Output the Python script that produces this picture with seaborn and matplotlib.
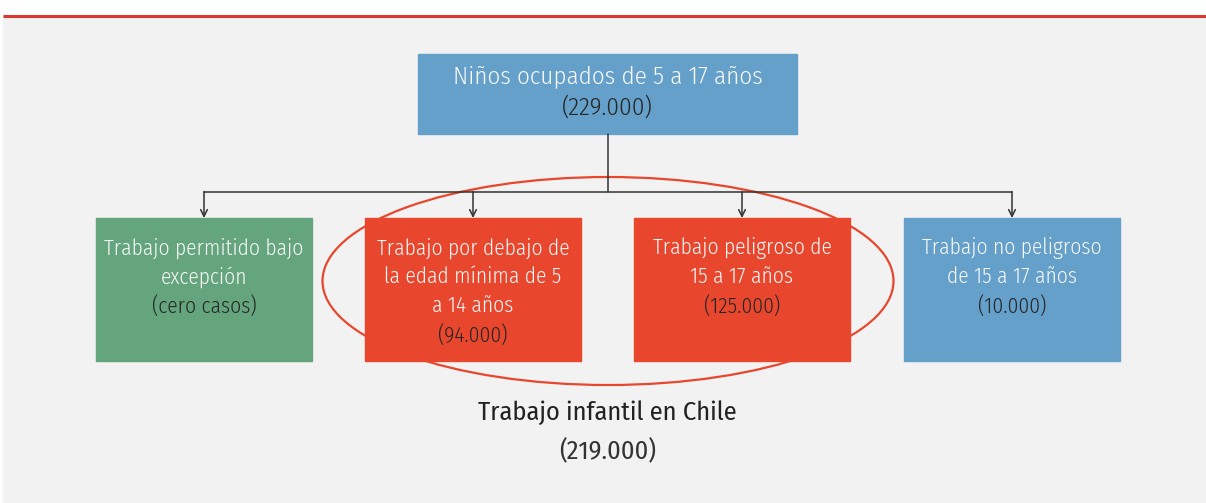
import matplotlib.pyplot as plt
import seaborn as sns
from matplotlib.patches import Rectangle, Ellipse

# diagram content
top_label = 'Niños ocupados de 5 a 17 años'
top_value = '(229.000)'
box_labels = [['Trabajo permitido bajo', 'excepción'],
              ['Trabajo por debajo de', 'la edad mínima de 5', 'a 14 años'],
              ['Trabajo peligroso de', '15 a 17 años'],
              ['Trabajo no peligroso', 'de 15 a 17 años']]
box_values = ['(cero casos)', '(94.000)', '(125.000)', '(10.000)']
box_kinds = ['permitido', 'infantil', 'infantil', 'ocupado']
total_label = 'Trabajo infantil en Chile'
total_value = '(219.000)'

colors = {'ocupado': '#64a0ca', 'permitido': '#64a57e', 'infantil': '#e8472e'}

sns.set_theme(style='white')
plt.rcParams['font.family'] = ['Fira Sans Condensed', 'DejaVu Sans']
light = dict(family=['Fira Sans Condensed', 'DejaVu Sans'], weight=300)
regular = dict(family=['Fira Sans Condensed', 'DejaVu Sans'], weight=400)

fig = plt.figure(figsize=(12.06, 5.03), dpi=100)
fig.patch.set_facecolor('white')
ax = fig.add_axes([0, 0, 1, 1])
ax.set_xlim(0, 1206)
ax.set_ylim(503, 0)
ax.axis('off')

# background panel and top rule
ax.add_patch(Rectangle((3, 16), 1210, 500, color='#f2f2f2', zorder=0))
ax.plot([3, 1206], [16, 16], color='#dc3a30', lw=2.2, zorder=1, solid_capstyle='butt')

line_c = '#333333'
white_c = '#f7f7f7'
dark_c = '#262626'

# top box
ax.add_patch(Rectangle((418, 54), 379, 80, color=colors['ocupado'], zorder=2))
ax.text(607.5, 76, top_label, color=white_c, fontsize=18, ha='center', va='center', zorder=5, **light)
ax.text(607.5, 108, top_value, color=dark_c, fontsize=18, ha='center', va='center', zorder=5, **light)

# ellipse around child labour boxes
ax.add_patch(Ellipse((608, 281), 571, 208, fill=False, edgecolor='#e8472e', lw=1.6, zorder=1.5))

# connectors
centers = [204, 473, 742, 1012]
ax.plot([607.5, 607.5], [134, 192], color=line_c, lw=1.1, zorder=3)
ax.plot([centers[0], centers[-1]], [192, 192], color=line_c, lw=1.1, zorder=3)
for cx in centers:
    ax.annotate('', xy=(cx, 218), xytext=(cx, 191.5),
                arrowprops=dict(arrowstyle='->', color=line_c, lw=1.1,
                                shrinkA=0, shrinkB=0, mutation_scale=12), zorder=3)

# lower boxes
for cx, lines, val, kind in zip(centers, box_labels, box_values, box_kinds):
    ax.add_patch(Rectangle((cx - 108, 218), 216, 143, color=colors[kind], zorder=2))
    y = 248
    for ln in lines:
        ax.text(cx, y, ln, color=white_c, fontsize=15.5, ha='center', va='center', zorder=5, **light)
        y += 29
    ax.text(cx, y, val, color=dark_c, fontsize=15.5, ha='center', va='center', zorder=5, **light)

# total
ax.text(607.5, 413, total_label, color='#222222', fontsize=19, ha='center', va='center', zorder=5, **regular)
ax.text(607.5, 452, total_value, color='#333333', fontsize=19, ha='center', va='center', zorder=5, **regular)

plt.savefig('out.png', dpi=100)
